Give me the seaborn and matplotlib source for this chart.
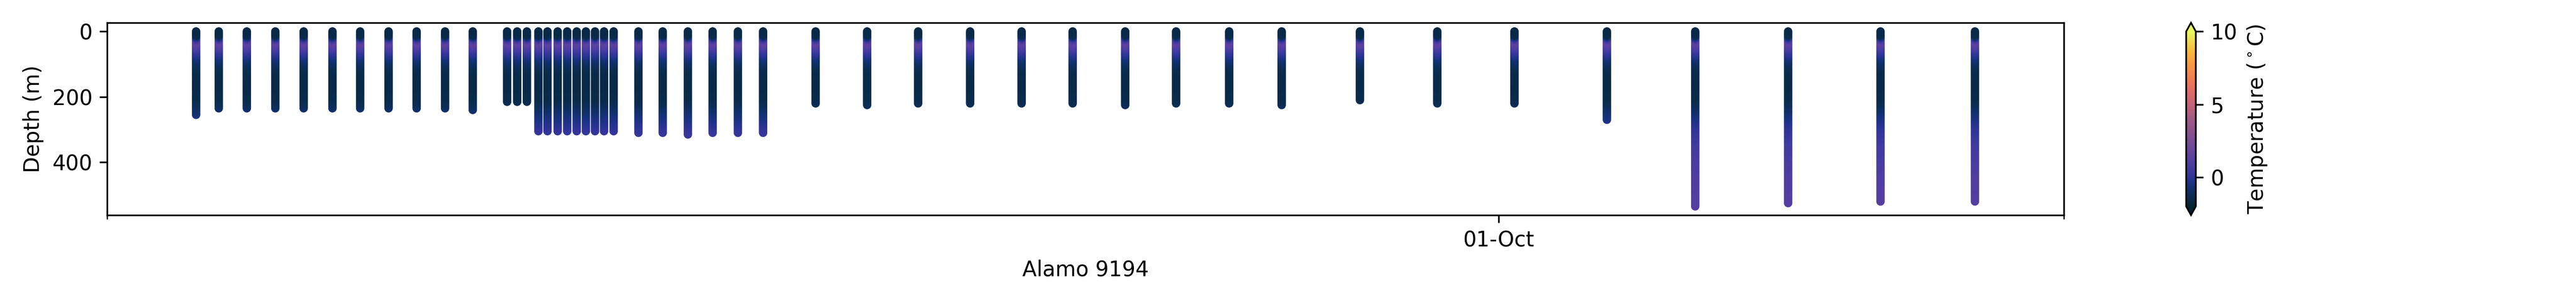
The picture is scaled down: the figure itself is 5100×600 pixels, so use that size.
import numpy as np
import pandas as pd
import matplotlib
matplotlib.use("Agg")
import matplotlib.pyplot as plt
import matplotlib.dates as mdates
from matplotlib.colors import LinearSegmentedColormap, Normalize
import seaborn as sns

# ---------------- data ----------------
profile_times = [
    "2021-09-05 20:30", "2021-09-06 07:00", "2021-09-06 20:00", "2021-09-07 09:12",
    "2021-09-07 22:20", "2021-09-08 11:40", "2021-09-09 00:30", "2021-09-09 13:40",
    "2021-09-10 02:40", "2021-09-10 15:50", "2021-09-11 04:40", "2021-09-11 20:35",
    "2021-09-12 01:15", "2021-09-12 05:45", "2021-09-12 11:05", "2021-09-12 15:17",
    "2021-09-12 20:00", "2021-09-13 00:25", "2021-09-13 04:50", "2021-09-13 09:05",
    "2021-09-13 13:18", "2021-09-13 17:30", "2021-09-13 21:56", "2021-09-14 09:25",
    "2021-09-14 20:40", "2021-09-15 08:20", "2021-09-15 19:48", "2021-09-16 07:30",
    "2021-09-16 19:10", "2021-09-17 19:30", "2021-09-18 19:22", "2021-09-19 19:00",
    "2021-09-20 19:05", "2021-09-21 18:56", "2021-09-22 18:35", "2021-09-23 18:55",
    "2021-09-24 18:30", "2021-09-25 19:05", "2021-09-26 19:25", "2021-09-28 07:40",
    "2021-09-29 19:30", "2021-10-01 07:15", "2021-10-03 02:05", "2021-10-04 19:00",
    "2021-10-06 14:02", "2021-10-08 08:50", "2021-10-10 04:35",
]

profile_max_depth = [
    255, 235, 235, 235, 235, 235, 235, 235, 235, 235, 240,
    215, 215, 215,
    305, 305, 305, 305, 305, 305, 305, 305, 305,
    310, 310, 315, 310, 310, 310,
    220, 225, 220, 220, 220, 220, 225, 220, 220, 225,
    210, 220, 220, 270, 535, 525, 520, 520,
]

depth_levels = [
    0, 5, 10, 15, 20, 25, 30, 35, 40, 45, 50, 55, 60, 65, 70, 75, 80, 85, 90, 95,
    100, 105, 110, 115, 120, 125, 130, 135, 140, 145, 150, 155, 160, 165, 170, 175,
    180, 185, 190, 195, 200, 205, 210, 215, 220, 225, 230, 235, 240, 245, 250, 255,
    260, 265, 270, 275, 280, 285, 290, 295, 300, 305, 310, 315, 320, 325, 330, 335,
    340, 345, 350, 355, 360, 365, 370, 375, 380, 385, 390, 395, 400, 405, 410, 415,
    420, 425, 430, 435, 440, 445, 450, 455, 460, 465, 470, 475, 480, 485, 490, 495,
    500, 505, 510, 515, 520, 525, 530, 535,
]

temperature_profile = [
    -1.55, -1.55, -1.50, -1.10, -0.20, 0.70, 1.20, 1.35, 1.20, 0.95,
    0.70, 0.45, 0.20, 0.00, -0.20, -0.40, -0.60, -0.80, -0.95, -1.10,
    -1.20, -1.28, -1.35, -1.40, -1.45, -1.48, -1.50, -1.52, -1.53, -1.54,
    -1.55, -1.55, -1.55, -1.55, -1.55, -1.54, -1.53, -1.52, -1.50, -1.48,
    -1.45, -1.42, -1.37, -1.30, -1.22, -1.12, -1.00, -0.90, -0.80, -0.70,
    -0.60, -0.50, -0.42, -0.35, -0.27, -0.20, -0.12, -0.05, 0.02, 0.10,
    0.16, 0.22, 0.28, 0.33, 0.38, 0.42, 0.46, 0.50, 0.54, 0.57,
    0.60, 0.63, 0.66, 0.68, 0.71, 0.73, 0.76, 0.78, 0.80, 0.82,
    0.84, 0.86, 0.88, 0.90, 0.92, 0.94, 0.96, 0.97, 0.99, 1.00,
    1.02, 1.03, 1.04, 1.05, 1.06, 1.07, 1.08, 1.09, 1.10, 1.10,
    1.11, 1.12, 1.12, 1.13, 1.13, 1.14, 1.14, 1.15,
]

temp_min, temp_max = -2, 10
cbar_ticks = [0, 5, 10]
yticks = [0, 200, 400]

# thermal-like colormap anchors
thermal_anchors = [
    (0.000, "#042333"), (0.050, "#0a2c4f"), (0.100, "#10306e"),
    (0.140, "#1e3287"), (0.170, "#2f3497"), (0.210, "#403a9f"),
    (0.260, "#543ea0"), (0.320, "#6a459c"), (0.400, "#82508f"),
    (0.500, "#a05a86"), (0.580, "#c4627a"), (0.650, "#dc6b68"),
    (0.720, "#ef7955"), (0.800, "#f99444"), (0.880, "#f9b63c"),
    (0.940, "#f0d64a"), (1.000, "#e8fa5b"),
]
cmap = LinearSegmentedColormap.from_list("thermal_like", thermal_anchors, N=256)
norm = Normalize(vmin=temp_min, vmax=temp_max)

# ---------------- build table ----------------
rows = []
for t, maxd in zip(profile_times, profile_max_depth):
    pts = [(d, T) for d, T in zip(depth_levels, temperature_profile) if d <= maxd]
    for d, T in reversed(pts):  # ascending profile: deep first
        rows.append((pd.Timestamp(t), d, T))
df = pd.DataFrame(rows, columns=["time", "depth", "temp"])

# ---------------- plot ----------------
fig = plt.figure(figsize=(17, 2), dpi=300)
ax = fig.add_subplot(111)
fig.subplots_adjust(left=0.0416, right=0.9911, bottom=0.29, top=0.925)

sns.scatterplot(data=df, x="time", y="depth", hue="temp", palette=cmap,
                hue_norm=norm, s=16, linewidth=0, edgecolor="none",
                legend=False, ax=ax)

ax.invert_yaxis()
ax.set_yticks(yticks)
ax.set_ylabel("Depth (m)")
ax.set_xlabel("Alamo 9194")
ax.xaxis.set_major_locator(mdates.MonthLocator())
ax.xaxis.set_major_formatter(mdates.DateFormatter("%d-%b"))
xl = ax.get_xlim()
ax.set_xticks(list(xl), minor=True)
ax.set_xlim(xl)

sm = plt.cm.ScalarMappable(norm=norm, cmap=cmap)
sm.set_array([])
cb = fig.colorbar(sm, ax=ax, extend="both", ticks=cbar_ticks)
cb.set_label("Temperature ($^\\circ$C)")

fig.savefig("out.png", dpi=300)
